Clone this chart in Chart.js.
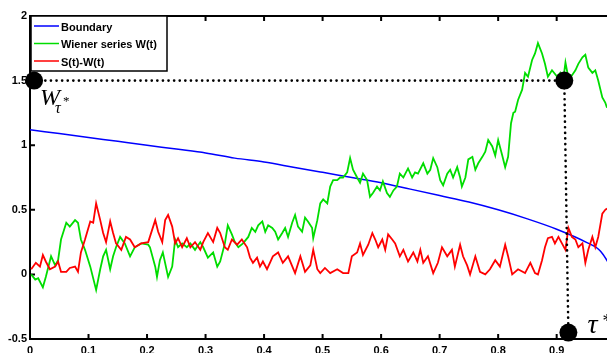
<!DOCTYPE html>
<html>
<head>
<meta charset="utf-8">
<script src="https://cdn.jsdelivr.net/npm/chart.js@4/dist/chart.umd.min.js"></script>
<style>
  html, body { margin: 0; padding: 0; background: #fff; }
  #wrap { width: 607px; height: 353px; }
</style>
</head>
<body>
<div id="wrap"><canvas id="c" width="607" height="353"></canvas></div>
<script>
// ---- axis ticks ----
const xTicks = [0, 0.1, 0.2, 0.3, 0.4, 0.5, 0.6, 0.7, 0.8, 0.9];
const xTickLabels = ['0', '0.1', '0.2', '0.3', '0.4', '0.5', '0.6', '0.7', '0.8', '0.9'];
const yTicks = [-0.5, 0, 0.5, 1, 1.5, 2];
const yTickLabels = ['-0.5', '0', '0.5', '1', '1.5', '2'];

// ---- series labels ----
const seriesNames = ['Boundary', 'Wiener series W(t)', 'S(t)-W(t)'];

// ---- stopping boundary ----
const boundaryT = [0, 0.05, 0.10, 0.15, 0.20, 0.25, 0.30, 0.35, 0.40, 0.45, 0.50,
                   0.55, 0.60, 0.65, 0.70, 0.75, 0.80, 0.85, 0.90, 0.95, 0.975, 1.0];
const boundaryV = [1.12, 1.09, 1.06, 1.03, 1.00, 0.97, 0.94, 0.90, 0.87, 0.83, 0.79,
                   0.75, 0.71, 0.66, 0.61, 0.56, 0.50, 0.43, 0.35, 0.25, 0.18, 0.0];

// ---- Wiener path W(t) ----
const wienerT = [
  0.002,0.009,0.014,0.022,0.027,0.036,0.043,0.048,0.053,0.062,
  0.068,0.077,0.082,0.087,0.094,0.103,0.113,0.120,0.125,0.130,
  0.137,0.142,0.147,0.154,0.162,0.171,0.179,0.190,0.202,0.205,
  0.214,0.217,0.222,0.227,0.236,0.243,0.248,0.253,0.260,0.268,
  0.274,0.282,0.291,0.296,0.304,0.313,0.320,0.325,0.333,0.338,
  0.345,0.350,0.356,0.364,0.373,0.379,0.385,0.390,0.397,0.402,
  0.407,0.414,0.419,0.424,0.431,0.436,0.441,0.448,0.453,0.458,
  0.465,0.470,0.475,0.482,0.484,0.491,0.496,0.501,0.508,0.513,
  0.518,0.525,0.530,0.535,0.542,0.547,0.552,0.559,0.564,0.569,
  0.576,0.581,0.586,0.593,0.598,0.603,0.610,0.615,0.621,0.627,
  0.632,0.638,0.646,0.653,0.658,0.663,0.672,0.679,0.684,0.689,
  0.696,0.701,0.706,0.713,0.718,0.723,0.730,0.735,0.738,0.744,
  0.749,0.756,0.761,0.766,0.773,0.778,0.783,0.790,0.795,0.800,
  0.807,0.812,0.817,0.822,0.826,0.829,0.834,0.841,0.846,0.851,
  0.858,0.863,0.868,0.875,0.880,0.885,0.892,0.901,0.906,0.911,
  0.915,0.920,0.926,0.932,0.937,0.944,0.949,0.954,0.961,0.966,
  0.971,0.978,0.983,0.986
];
const wienerW = [
  0.00,-0.04,-0.03,-0.10,-0.02,0.14,0.07,0.11,0.27,0.40,
  0.37,0.42,0.40,0.27,0.19,0.06,-0.12,0.04,0.14,0.19,
  0.04,0.14,0.21,0.29,0.24,0.14,0.21,0.24,0.23,0.21,
  0.06,-0.02,0.11,0.17,-0.02,0.06,0.27,0.21,0.24,0.21,
  0.24,0.19,0.25,0.21,0.13,0.17,0.06,0.10,0.24,0.38,
  0.31,0.25,0.21,0.24,0.29,0.36,0.33,0.38,0.41,0.33,
  0.38,0.36,0.33,0.27,0.32,0.36,0.29,0.40,0.46,0.37,
  0.33,0.44,0.41,0.36,0.28,0.42,0.55,0.58,0.55,0.68,
  0.73,0.73,0.75,0.75,0.79,0.90,0.81,0.75,0.71,0.78,
  0.73,0.60,0.63,0.68,0.65,0.72,0.63,0.60,0.65,0.68,
  0.78,0.75,0.82,0.75,0.79,0.78,0.86,0.78,0.81,0.90,
  0.83,0.73,0.69,0.78,0.81,0.75,0.83,0.75,0.68,0.75,
  0.89,0.91,0.81,0.86,0.91,0.95,1.04,0.99,0.92,1.04,
  0.92,0.83,0.91,1.17,1.25,1.26,1.35,1.43,1.56,1.53,
  1.66,1.71,1.79,1.71,1.63,1.53,1.58,1.53,1.56,1.50,
  1.64,1.52,1.54,1.58,1.63,1.68,1.70,1.60,1.56,1.58,
  1.50,1.37,1.33,1.29
];

// ---- S(t)-W(t) ----
const gapT = [
  0.002,0.010,0.017,0.022,0.027,0.034,0.043,0.048,0.053,0.062,
  0.068,0.077,0.082,0.087,0.094,0.103,0.108,0.113,0.120,0.125,
  0.130,0.137,0.142,0.147,0.156,0.164,0.171,0.179,0.190,0.202,
  0.214,0.219,0.226,0.231,0.236,0.243,0.248,0.253,0.260,0.268,
  0.274,0.282,0.291,0.296,0.304,0.313,0.320,0.325,0.333,0.338,
  0.345,0.354,0.362,0.371,0.376,0.381,0.388,0.393,0.398,0.405,
  0.410,0.415,0.424,0.432,0.441,0.453,0.462,0.470,0.479,0.484,
  0.491,0.496,0.504,0.513,0.525,0.535,0.544,0.550,0.559,0.564,
  0.569,0.578,0.585,0.590,0.595,0.602,0.607,0.612,0.619,0.624,
  0.632,0.638,0.646,0.655,0.662,0.667,0.672,0.680,0.689,0.697,
  0.704,0.713,0.721,0.726,0.735,0.740,0.747,0.752,0.761,0.769,
  0.778,0.786,0.795,0.803,0.812,0.817,0.824,0.834,0.846,0.855,
  0.863,0.868,0.875,0.880,0.885,0.892,0.897,0.903,0.909,0.915,
  0.920,0.926,0.932,0.937,0.944,0.949,0.954,0.961,0.966,0.971,
  0.978,0.983,0.986
];
const gapV = [
  0.04,0.09,0.06,0.15,0.10,0.04,0.06,0.10,0.02,0.02,
  0.05,0.06,0.02,0.17,0.27,0.41,0.40,0.55,0.42,0.32,
  0.25,0.41,0.32,0.24,0.19,0.29,0.27,0.21,0.24,0.25,
  0.42,0.33,0.25,0.42,0.46,0.37,0.24,0.28,0.21,0.28,
  0.21,0.25,0.19,0.25,0.32,0.25,0.36,0.32,0.21,0.19,
  0.27,0.23,0.27,0.21,0.13,0.09,0.13,0.06,0.10,0.04,
  0.09,0.14,0.17,0.09,0.14,0.01,0.14,0.02,0.07,0.19,
  0.04,0.01,0.05,0.01,0.04,0.01,0.01,0.14,0.17,0.24,
  0.15,0.23,0.32,0.27,0.21,0.27,0.19,0.31,0.27,0.24,
  0.14,0.19,0.10,0.17,0.10,0.19,0.09,0.14,0.01,0.09,
  0.21,0.14,0.19,0.06,0.23,0.14,0.07,0.00,0.14,0.02,
  0.00,0.04,0.11,0.06,0.23,0.14,0.00,0.04,0.01,0.09,
  0.01,0.00,0.11,0.21,0.28,0.29,0.24,0.29,0.24,0.19,
  0.36,0.29,0.27,0.21,0.24,0.09,0.19,0.29,0.21,0.29,
  0.47,0.50,0.51
];

// ---- stopping markers: (0, W_tau*), (tau*, W_tau*), (tau*, axis) ----
const markerT = [0.007, 0.913, 0.920];
const markerV = [1.5, 1.5, -0.45];

const pairs = (xs, ys) => xs.map((x, i) => ({ x: x, y: ys[i] }));

const COLORS = ['#0000ff', '#00dd00', '#ff0000'];
const tickFont = { family: "'Liberation Sans', Arial, sans-serif", size: 11, weight: 'bold' };

// axes box with inward tick marks (drawn under the data)
const axesFrame = {
  id: 'axesFrame',
  beforeDatasetsDraw(chart) {
    const { ctx, chartArea: a, scales: { x, y } } = chart;
    ctx.save();
    ctx.strokeStyle = '#000';
    ctx.lineWidth = 2;
    ctx.beginPath();
    ctx.moveTo(a.left, a.bottom); ctx.lineTo(a.right + 2, a.bottom);
    ctx.moveTo(a.left, a.top);    ctx.lineTo(a.right + 2, a.top);
    ctx.moveTo(a.left, a.top - 1); ctx.lineTo(a.left, a.bottom + 1);
    ctx.stroke();
    ctx.beginPath();
    const len = 5;
    xTicks.forEach(v => {
      const px = x.getPixelForValue(v);
      ctx.moveTo(px, a.bottom); ctx.lineTo(px, a.bottom - len);
      ctx.moveTo(px, a.top);    ctx.lineTo(px, a.top + len);
    });
    yTicks.forEach(v => {
      const py = y.getPixelForValue(v);
      ctx.moveTo(a.left, py); ctx.lineTo(a.left + len, py);
    });
    ctx.stroke();
    ctx.restore();
  }
};

// legend box in the upper-left corner and the W_tau*, tau* labels
const overlay = {
  id: 'overlay',
  afterDraw(chart) {
    const { ctx, chartArea: a, scales: { x, y } } = chart;
    ctx.save();
    // legend
    const lx = a.left + 1, ly = a.top, lw = 136, lh = 55;
    ctx.fillStyle = '#fff';
    ctx.fillRect(lx, ly, lw, lh);
    ctx.strokeStyle = '#000';
    ctx.lineWidth = 1.5;
    ctx.strokeRect(lx, ly, lw, lh);
    ctx.font = "bold 11px 'Liberation Sans', Arial, sans-serif";
    ctx.textBaseline = 'middle';
    ctx.textAlign = 'left';
    seriesNames.forEach((name, i) => {
      const yy = ly + 10 + i * 17.5;
      ctx.strokeStyle = COLORS[i];
      ctx.lineWidth = 1.5;
      ctx.beginPath();
      ctx.moveTo(lx + 3, yy); ctx.lineTo(lx + 28, yy);
      ctx.stroke();
      ctx.fillStyle = '#000';
      ctx.fillText(name, lx + 30, yy + 1.5);
    });

    // labels next to the markers
    const serif = "'Liberation Serif', 'Times New Roman', serif";
    ctx.fillStyle = '#000';
    ctx.textBaseline = 'alphabetic';
    const p0x = x.getPixelForValue(markerT[0]), p0y = y.getPixelForValue(markerV[0]);
    ctx.font = 'italic 24px ' + serif;
    ctx.fillText('W', p0x + 6, p0y + 24);
    ctx.font = 'italic 16px ' + serif;
    ctx.fillText('\u03c4', p0x + 21, p0y + 32);
    ctx.font = '13px ' + serif;
    ctx.fillText('*', p0x + 29, p0y + 24);

    const p2x = x.getPixelForValue(markerT[2]), p2y = y.getPixelForValue(markerV[2]);
    ctx.font = 'italic 28px ' + serif;
    ctx.fillText('\u03c4', p2x + 19, p2y + 0);
    ctx.font = '18px ' + serif;
    ctx.fillText('*', p2x + 34, p2y - 6);
    ctx.restore();
  }
};

Chart.defaults.font.family = "'Liberation Sans', Arial, sans-serif";

new Chart(document.getElementById('c'), {
  type: 'line',
  data: {
    datasets: [
      {
        label: seriesNames[0], data: pairs(boundaryT, boundaryV),
        borderColor: COLORS[0], borderWidth: 1.5, pointRadius: 0,
        cubicInterpolationMode: 'monotone', order: 3
      },
      {
        label: seriesNames[1], data: pairs(wienerT, wienerW),
        borderColor: COLORS[1], borderWidth: 1.8, pointRadius: 0, tension: 0, order: 2
      },
      {
        label: seriesNames[2], data: pairs(gapT, gapV),
        borderColor: COLORS[2], borderWidth: 1.8, pointRadius: 0, tension: 0, order: 1
      },
      {
        label: 'stop', data: pairs(markerT, markerV),
        borderColor: '#000', borderWidth: 2.6, borderDash: [0.1, 5.5], borderCapStyle: 'round',
        pointRadius: 9, pointBackgroundColor: '#000', pointBorderColor: '#000', pointBorderWidth: 0,
        tension: 0, clip: false, order: 0
      }
    ]
  },
  options: {
    responsive: false,
    animation: false,
    devicePixelRatio: 1,
    layout: { autoPadding: false, padding: { top: 16, left: 0, right: 0, bottom: 0 } },
    plugins: { legend: { display: false }, tooltip: { enabled: false } },
    scales: {
      x: {
        type: 'linear', min: 0, max: 0.986,
        afterBuildTicks: s => { s.ticks = xTicks.map(v => ({ value: v })); },
        afterFit: s => { s.height = 14; s.paddingLeft = 0; s.paddingRight = 0; },
        grid: { display: false, drawTicks: false },
        border: { display: false },
        ticks: { padding: 5, color: '#000', font: tickFont, maxRotation: 0, autoSkip: false,
                 callback: (v, i) => xTickLabels[i] }
      },
      y: {
        type: 'linear', min: -0.5, max: 2,
        afterBuildTicks: s => { s.ticks = yTicks.map(v => ({ value: v })); },
        afterFit: s => { s.width = 30; s.paddingTop = 0; s.paddingBottom = 0; },
        grid: { display: false, drawTicks: false },
        border: { display: false },
        ticks: { padding: 3, color: '#000', font: tickFont, autoSkip: false,
                 callback: (v, i) => yTickLabels[i] }
      }
    }
  },
  plugins: [axesFrame, overlay]
});
</script>
</body>
</html>
